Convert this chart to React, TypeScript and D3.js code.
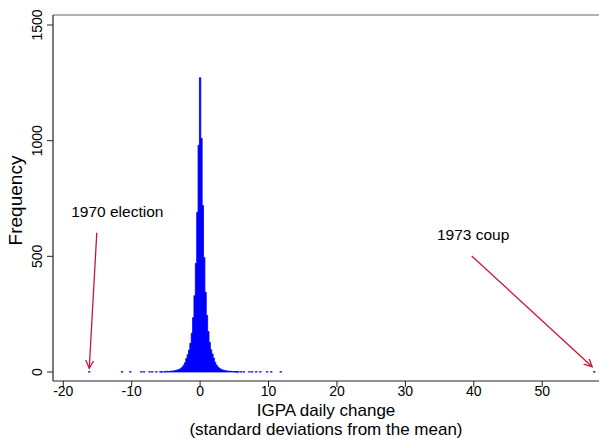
import React, { useRef, useEffect } from 'react';
import * as d3 from 'd3';

// core histogram bins (width 0.2 sd), centres -5.0 .. 5.0
const binCenters = [
  -5.0, -4.8, -4.6, -4.4, -4.2, -4.0, -3.8, -3.6, -3.4, -3.2, -3.0, -2.8, -2.6,
  -2.4, -2.2, -2.0, -1.8, -1.6, -1.4, -1.2, -1.0, -0.8, -0.6, -0.4, -0.2, 0.0,
  0.2, 0.4, 0.6, 0.8, 1.0, 1.2, 1.4, 1.6, 1.8, 2.0, 2.2, 2.4, 2.6, 2.8, 3.0,
  3.2, 3.4, 3.6, 3.8, 4.0, 4.2, 4.4, 4.6, 4.8, 5.0,
];
const binCounts = [
  2, 3, 2, 3, 4, 4, 5, 6, 8, 10, 12, 16, 21,
  29, 40, 58, 75, 95, 124, 168, 235, 330, 470, 690, 980, 1272,
  1010, 720, 495, 345, 245, 175, 128, 96, 78, 60, 42, 30, 22, 17, 13,
  10, 8, 7, 5, 4, 4, 3, 3, 2, 2,
];

// isolated outlying days
const outlierCenters = [
  -16.2, -11.4, -10.2, -8.6, -8.2, -7.4, -7.0, -6.4, -5.8, -5.6, -5.2,
  5.2, 5.4, 5.6, 6.0, 6.4, 7.2, 7.6, 8.2, 8.8, 9.8, 10.4, 11.8, 57.6,
];
const outlierCounts = [
  1, 1, 1, 1, 1, 1, 1, 1, 1, 1, 1,
  2, 1, 1, 1, 1, 1, 1, 1, 1, 1, 1, 1, 1,
];

const binWidth = 0.2;
const xTicks = [-20, -10, 0, 10, 20, 30, 40, 50];
const yTicks = [0, 500, 1000, 1500];

const notes = [
  { label: '1970 election', tx: -12.1, ty: 671, from: [-15.1, 602], to: [-16.2, 16] },
  { label: '1973 coup', tx: 39.9, ty: 571, from: [39.7, 501], to: [57.3, 23] },
];

const Histogram = () => {
  const ref = useRef(null);

  useEffect(() => {
    d3.select(ref.current).selectAll('*').remove();

    const width = 599, height = 439;
    const left = 53, right = 599, top = 15, axisY = 381;
    const font = '"Liberation Sans", Arial, Helvetica, sans-serif';
    const blue = '#0000ff';
    const red = '#c8143c';

    const svg = d3.select(ref.current)
      .attr('width', width)
      .attr('height', height)
      .style('font-family', font);

    const x = d3.scaleLinear().domain([-21.5, 58.3]).range([left, right]);
    const y = d3.scaleLinear().domain([0, 1500]).range([372, 25]);

    svg.append('rect').attr('width', width).attr('height', height).attr('fill', '#fff');

    // core of the histogram as one stepped outline, so neighbouring bars don't leave seams
    const steps = binCenters.map((c, i) => ({ x0: c - binWidth / 2, n: binCounts[i] }));
    const last = binCenters[binCenters.length - 1] + binWidth / 2;
    steps.push({ x0: last, n: binCounts[binCounts.length - 1] });

    const area = d3.area()
      .curve(d3.curveStepAfter)
      .x(d => x(d.x0))
      .y0(y(0))
      .y1(d => y(d.n));

    svg.append('path')
      .datum(steps)
      .attr('d', area)
      .attr('fill', blue)
      .attr('stroke', blue)
      .attr('stroke-width', 0.8);

    svg.append('g')
      .selectAll('rect')
      .data(outlierCenters.map((c, i) => ({ c, n: outlierCounts[i] })))
      .join('rect')
      .attr('x', d => x(d.c - binWidth / 2))
      .attr('width', d => x(d.c + binWidth / 2) - x(d.c - binWidth / 2))
      .attr('y', d => y(d.n))
      .attr('height', d => y(0) - y(d.n))
      .attr('fill', blue)
      .attr('stroke', blue)
      .attr('stroke-width', 1);

    // frame
    svg.append('line')
      .attr('x1', left).attr('x2', right).attr('y1', top).attr('y2', top)
      .attr('stroke', '#666').attr('stroke-width', 1.2);
    svg.append('line')
      .attr('x1', left).attr('x2', left).attr('y1', top).attr('y2', axisY)
      .attr('stroke', '#222').attr('stroke-width', 1.2);
    svg.append('line')
      .attr('x1', left).attr('x2', right).attr('y1', axisY).attr('y2', axisY)
      .attr('stroke', '#222').attr('stroke-width', 1.2);

    // x ticks
    const xa = svg.append('g');
    xTicks.forEach(t => {
      xa.append('line')
        .attr('x1', x(t)).attr('x2', x(t)).attr('y1', axisY).attr('y2', axisY + 6)
        .attr('stroke', '#222');
      xa.append('text')
        .attr('x', x(t)).attr('y', axisY + 15)
        .attr('text-anchor', 'middle')
        .attr('font-size', 14)
        .text(t);
    });

    // y ticks
    const ya = svg.append('g');
    yTicks.forEach(t => {
      ya.append('line')
        .attr('x1', left - 6).attr('x2', left).attr('y1', y(t)).attr('y2', y(t))
        .attr('stroke', '#222');
      ya.append('text')
        .attr('transform', `translate(${left - 11}, ${y(t)}) rotate(-90)`)
        .attr('text-anchor', 'middle')
        .attr('font-size', 14)
        .text(t);
    });

    // axis titles
    svg.append('text')
      .attr('transform', `translate(22, ${(y(0) + y(1500)) / 2 + 2}) rotate(-90)`)
      .attr('text-anchor', 'middle')
      .attr('font-size', 19)
      .text('Frequency');
    svg.append('text')
      .attr('x', (left + right) / 2).attr('y', 415.5)
      .attr('text-anchor', 'middle')
      .attr('font-size', 17)
      .text('IGPA daily change');
    svg.append('text')
      .attr('x', (left + right) / 2).attr('y', 435)
      .attr('text-anchor', 'middle')
      .attr('font-size', 17)
      .text('(standard deviations from the mean)');

    // annotations
    svg.append('defs').append('marker')
      .attr('id', 'head')
      .attr('markerUnits', 'userSpaceOnUse')
      .attr('markerWidth', 12).attr('markerHeight', 12)
      .attr('refX', 8).attr('refY', 4)
      .attr('orient', 'auto')
      .append('path')
      .attr('d', 'M0,0 L8,4 L0,8')
      .attr('fill', 'none')
      .attr('stroke', red)
      .attr('stroke-width', 1.3);

    notes.forEach(n => {
      svg.append('line')
        .attr('x1', x(n.from[0])).attr('y1', y(n.from[1]))
        .attr('x2', x(n.to[0])).attr('y2', y(n.to[1]))
        .attr('stroke', red)
        .attr('stroke-width', 1.3)
        .attr('marker-end', 'url(#head)');
      svg.append('text')
        .attr('x', x(n.tx)).attr('y', y(n.ty))
        .attr('text-anchor', 'middle')
        .attr('font-size', 15.5)
        .text(n.label);
    });
  }, []);

  return <svg ref={ref} style={{ position: 'absolute', left: 0, top: 0 }} />;
};

export default function App() {
  return <Histogram />;
}
